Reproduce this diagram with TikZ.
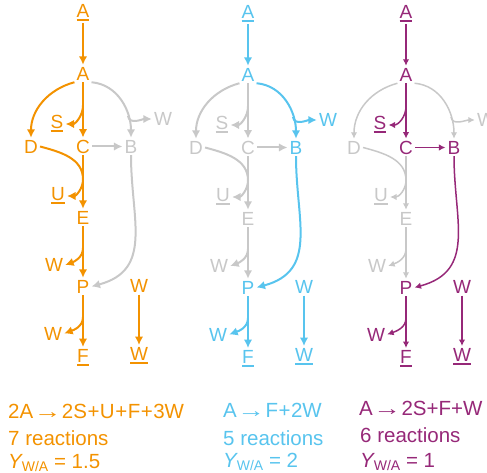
\documentclass[tikz,border=0pt]{standalone}
\usepackage{fontspec}
\setmainfont{Liberation Sans}
\usetikzlibrary{arrows.meta}
\definecolor{orng}{RGB}{243,146,0}
\definecolor{blu}{RGB}{88,196,238}
\definecolor{purp}{RGB}{150,40,120}
\definecolor{gry}{RGB}{200,200,200}
\newcommand\ulx[1]{\vtop{\hbox{#1}\kern1.5pt\hrule height 2pt}}
\newcommand\yl[1]{{\itshape Y}\raisebox{-3pt}{\fontsize{14}{14}\selectfont W/A} = #1}
\newcommand\ra{\kern0.5pt\scalebox{1.35}[1]{→}\kern0.5pt}
\newcommand\pl{\kern0.5pt+\kern0.5pt}
% #1 prefix, #2 active, #3 A->D, #4 A->C+S, #5 A->B+W, #6 C->B, #7 D+C->E+U, #8 E->P+W, #9 B->P
\newcommand\rxpanel[9]{%
 \node[nd,text=#2] (#1At) at (0,-13) {\ulx{A}};
 \node[nd,text=#2] (#1A) at (0,-73.5) {A};
 \node[nd,text=#4] (#1S) at (-26,-124) {\ulx{S}};
 \node[nd,text=#3] (#1D) at (-52,-146.5) {D};
 \node[nd,text=#4] (#1C) at (0,-146.5) {C};
 \node[nd,text=#9] (#1B) at (48,-146.5) {B};
 \node[nd,text=#5] (#1Wt) at (80,-119) {W};
 \node[nd,text=#7] (#1U) at (-25,-196) {\ulx{U}};
 \node[nd,text=#7] (#1E) at (0,-217.5) {E};
 \node[nd,text=#8] (#1Wm) at (-29,-265) {W};
 \node[nd,text=#2] (#1P) at (0,-286.5) {P};
 \node[nd,text=#2] (#1Wr) at (56,-286) {W};
 \node[nd,text=#2] (#1Wl) at (-30,-333.5) {W};
 \node[nd,text=#2] (#1F) at (0,-357.5) {\ulx{F}};
 \node[nd,text=#2] (#1Wu) at (56,-355.5) {\ulx{W}};
 \draw[ln,draw=#3] (#1A.south west) to[out=195,in=90] (#1D.north);
 \draw[ln,draw=#5] (#1A.south east) to[out=-5,in=90] coordinate[pos=0.72] (#1ab) (#1B.north);
 \draw[ln,draw=#5] (#1ab) to[out=-80,in=180] (#1Wt.west);
 \draw[ln,draw=#6] (#1C) -- (#1B);
 \draw[ln,draw=#9] (#1B.south) to[out=-90,in=15,looseness=1.2] (#1P.east);
 \draw[ln,draw=#2] (#1At) -- (#1A);
 \draw[ln,draw=#4] (#1A) -- coordinate[pos=0.42] (#1ac) (#1C);
 \draw[ln,draw=#4] (#1ac) to[out=-90,in=0] (#1S.east);
 \draw[ln,draw=#7] (#1C) -- coordinate[pos=0.45] (#1ce) (#1E);
 \draw[lw,draw=#7] (#1D.east) to[out=-15,in=90] (#1ce);
 \draw[ln,draw=#7] (#1ce) to[out=-90,in=0] (#1U.east);
 \draw[ln,draw=#8] (#1E) -- coordinate[pos=0.42] (#1ep) (#1P);
 \draw[ln,draw=#8] (#1ep) to[out=-90,in=20] (#1Wm.east);
 \draw[ln,draw=#2] (#1P) -- coordinate[pos=0.42] (#1pf) (#1F);
 \draw[ln,draw=#2] (#1pf) to[out=-90,in=20] (#1Wl.east);
 \draw[ln,draw=#2] (#1Wr) -- (#1Wu);
}
\begin{document}
\begin{tikzpicture}[x=1pt,y=1pt,
  nd/.style={inner sep=2pt, font=\fontsize{19}{19}\selectfont},
  lw/.style={line width=2pt},
  ln/.style={lw, -{Latex[length=8.5pt,width=8.5pt]}},
  txt/.style={anchor=base west, inner sep=0pt, font=\fontsize{20.5}{24}\selectfont}]
\useasboundingbox (0,0) rectangle (487,-473);
\begin{scope}[xshift=83pt]
 \rxpanel{p}{orng}{orng}{orng}{gry}{gry}{orng}{orng}{gry}
\end{scope}
\begin{scope}[xshift=248pt,yshift=-1pt]
 \rxpanel{q}{blu}{gry}{gry}{blu}{gry}{gry}{gry}{blu}
\end{scope}
\begin{scope}[xshift=406pt,yshift=-1pt,
  lw/.style={line width=1.5pt}, ln/.style={lw, -{Latex[length=6.5pt,width=6.5pt]}}]
 \rxpanel{r}{purp}{gry}{purp}{gry}{purp}{gry}{gry}{purp}
\end{scope}
\node[txt,text=orng] (eq1) at (8,-418) {2A\ra2S\pl U\pl F\pl 3W};
\node[txt,text=orng] (rc1) at (8,-445) {7 reactions};
\node[txt,text=orng] (y1) at (8,-468) {\yl{1.5}};
\node[txt,text=blu] (eq2) at (223,-417) {A\ra F\pl 2W};
\node[txt,text=blu] (rc2) at (223,-445) {5 reactions};
\node[txt,text=blu] (y2) at (223,-467) {\yl{2}};
\node[txt,text=purp] (eq3) at (359,-415) {A\ra2S+F+W};
\node[txt,text=purp] (rc3) at (360,-442) {6 reactions};
\node[txt,text=purp] (y3) at (360,-467) {\yl{1}};
\end{tikzpicture}
\end{document}
